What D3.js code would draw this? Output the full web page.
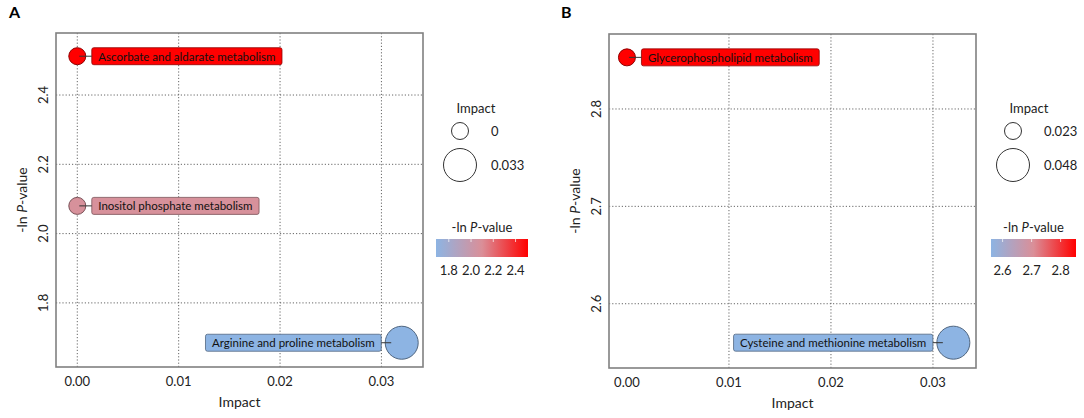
<!DOCTYPE html>
<html>
<head>
<meta charset="utf-8">
<script src="https://cdn.jsdelivr.net/npm/d3@7"></script>
<style>
  body { margin: 0; background: #fff; }
  text { font-family: Lato, "Open Sans", sans-serif; fill: #222; }
</style>
</head>
<body>
<div class="canvas"></div>
<script>
// panel A data
const pathwaysA = ['Ascorbate and aldarate metabolism', 'Inositol phosphate metabolism', 'Arginine and proline metabolism'];
const impactA = [0, 0, 0.032];
const pvalA = [2.512, 2.080, 1.685];
const xTicksA = [0, 0.01, 0.02, 0.03];
const xGridA = [0, 0.01, 0.02, 0.03];
const yTicksA = [1.8, 2.0, 2.2, 2.4];
const sizeLegendA = ['0', '0.033'];
const colorTicksA = [1.8, 2.0, 2.2, 2.4];

// panel B data
const pathwaysB = ['Glycerophospholipid metabolism', 'Cysteine and methionine metabolism'];
const impactB = [0, 0.032];
const pvalB = [2.853, 2.560];
const xTicksB = [0, 0.01, 0.02, 0.03];
const xGridB = [0.01, 0.02, 0.03];
const yTicksB = [2.6, 2.7, 2.8];
const sizeLegendB = ['0.023', '0.048'];
const colorTicksB = [2.6, 2.7, 2.8];

const svg = d3.select('.canvas')
    .append('svg')
        .attr('width', 1084)
        .attr('height', 418);

const defs = svg.append('defs');

function drawPanel(p) {
    const g = svg.append('g');

    const x = d3.scaleLinear().domain(p.xDomain).range([p.left, p.right]);
    const y = d3.scaleLinear().domain(p.yDomain).range([p.bottom, p.top]);
    const r = d3.scaleLinear().domain(d3.extent(p.impact)).range([8.5, 16.5]);
    const pExt = d3.extent(p.pval);
    const colour = d3.scaleLinear()
        .domain([pExt[0], (pExt[0] + pExt[1]) / 2, pExt[1]])
        .range(['#8db4e3', '#da8f98', '#ff0000']);

    // panel letter
    g.append('text')
        .attr('x', p.letterX)
        .attr('y', 18)
        .attr('font-family', 'Liberation Sans, Arial, sans-serif')
        .attr('font-weight', 'bold')
        .attr('font-size', 16)
        .style('fill', '#000')
        .text(p.letter);

    // grid
    g.selectAll('line.grid-x')
        .data(p.xGrid)
        .enter()
        .append('line')
        .attr('class', 'grid-x')
        .attr('x1', d => x(d)).attr('x2', d => x(d))
        .attr('y1', p.top).attr('y2', p.bottom)
        .attr('stroke', '#666')
        .attr('stroke-width', 1)
        .attr('stroke-dasharray', '1.2,2');

    g.selectAll('line.grid-y')
        .data(p.yTicks)
        .enter()
        .append('line')
        .attr('class', 'grid-y')
        .attr('x1', p.left).attr('x2', p.right)
        .attr('y1', d => y(d)).attr('y2', d => y(d))
        .attr('stroke', '#666')
        .attr('stroke-width', 1)
        .attr('stroke-dasharray', '1.2,2');

    // frame
    g.append('rect')
        .attr('x', p.left)
        .attr('y', p.top)
        .attr('width', p.right - p.left)
        .attr('height', p.bottom - p.top)
        .attr('fill', 'none')
        .attr('stroke', '#808080')
        .attr('stroke-width', 1.6);

    // x tick labels
    g.selectAll('text.x-tick')
        .data(p.xTicks)
        .enter()
        .append('text')
        .attr('class', 'x-tick')
        .attr('x', d => x(d))
        .attr('y', p.bottom + 19)
        .attr('font-size', 13)
        .attr('text-anchor', 'middle')
        .text(d => d3.format('.2f')(d));

    // y tick labels (rotated)
    g.selectAll('text.y-tick')
        .data(p.yTicks)
        .enter()
        .append('text')
        .attr('class', 'y-tick')
        .attr('transform', d => `translate(${p.left - 8}, ${y(d)}) rotate(-90)`)
        .attr('font-size', 13)
        .attr('text-anchor', 'middle')
        .text(d => d3.format('.1f')(d));

    // axis titles
    g.append('text')
        .attr('x', (p.left + p.right) / 2)
        .attr('y', p.bottom + 40)
        .attr('font-size', 14)
        .attr('text-anchor', 'middle')
        .text('Impact');

    const yTitle = g.append('text')
        .attr('transform', `translate(${p.left - 29}, ${(p.top + p.bottom) / 2}) rotate(-90)`)
        .attr('font-size', 14)
        .attr('text-anchor', 'middle');
    yTitle.append('tspan').text('-ln ');
    yTitle.append('tspan').attr('font-style', 'italic').text('P');
    yTitle.append('tspan').text('-value');

    // points
    const pts = p.names.map((n, i) => ({name: n, impact: p.impact[i], pval: p.pval[i]}));
    const midX = (p.left + p.right) / 2;

    const marks = g.selectAll('g.point')
        .data(pts)
        .enter()
        .append('g')
        .attr('class', 'point');

    marks.append('circle')
        .attr('cx', d => x(d.impact))
        .attr('cy', d => y(d.pval))
        .attr('r', d => r(d.impact))
        .attr('fill', d => colour(d.pval))
        .attr('stroke', d => d3.color(colour(d.pval)).darker(1.6))
        .attr('stroke-width', 1);

    marks.each(function(d) {
        const m = d3.select(this);
        const cx = x(d.impact), cy = y(d.pval), rad = r(d.impact);
        const left = cx > midX;
        const label = m.append('text')
            .attr('font-size', 11.5)
            .attr('dominant-baseline', 'central')
            .attr('y', cy)
            .style('fill', '#111')
            .text(d.name);
        const tw = label.node().getComputedTextLength();
        const bw = tw + 13;
        const bx = left ? cx - rad - 4 - bw : cx + rad + 6;
        m.insert('rect', 'text')
            .attr('x', bx)
            .attr('y', cy - 8.5)
            .attr('width', bw)
            .attr('height', 17)
            .attr('rx', 2)
            .attr('fill', colour(d.pval))
            .attr('stroke', d3.color(colour(d.pval)).darker(1.6))
            .attr('stroke-width', 0.8);
        label.attr('x', bx + 6.5);
        m.append('line')
            .attr('x1', left ? bx + bw : bx)
            .attr('x2', left ? cx - rad + 6 : cx + 2)
            .attr('y1', cy).attr('y2', cy)
            .attr('stroke', '#333')
            .attr('stroke-width', 1);
    });

    // size legend
    const lg = g.append('g');
    lg.append('text')
        .attr('x', p.legendX + 16)
        .attr('y', 113)
        .attr('font-size', 13)
        .attr('text-anchor', 'middle')
        .text('Impact');

    const sizes = r.range();
    lg.selectAll('circle.size-key')
        .data(p.sizeLegend)
        .enter()
        .append('circle')
        .attr('class', 'size-key')
        .attr('cx', p.legendX)
        .attr('cy', (d, i) => i === 0 ? 131 : 165)
        .attr('r', (d, i) => sizes[i])
        .attr('fill', 'none')
        .attr('stroke', '#333')
        .attr('stroke-width', 1);

    lg.selectAll('text.size-key')
        .data(p.sizeLegend)
        .enter()
        .append('text')
        .attr('class', 'size-key')
        .attr('x', p.legendX + 31)
        .attr('y', (d, i) => i === 0 ? 131 : 165)
        .attr('font-size', 13)
        .attr('dominant-baseline', 'central')
        .text(d => d);

    // colour bar
    const gradId = 'grad' + p.letter;
    const grad = defs.append('linearGradient').attr('id', gradId);
    d3.range(0, 1.0001, 0.1).forEach(t => {
        const v = pExt[0] + t * (pExt[1] - pExt[0]);
        grad.append('stop')
            .attr('offset', `${t * 100}%`)
            .attr('stop-color', colour(v));
    });

    const cb = d3.scaleLinear().domain(pExt).range([p.barX0, p.barX1]);

    const ct = lg.append('text')
        .attr('x', (p.barX0 + p.barX1) / 2)
        .attr('y', 232)
        .attr('font-size', 13)
        .attr('text-anchor', 'middle');
    ct.append('tspan').text('-ln ');
    ct.append('tspan').attr('font-style', 'italic').text('P');
    ct.append('tspan').text('-value');

    lg.append('rect')
        .attr('x', p.barX0)
        .attr('y', 239)
        .attr('width', p.barX1 - p.barX0)
        .attr('height', 18)
        .attr('fill', `url(#${gradId})`);

    lg.selectAll('line.cb-tick')
        .data(p.colorTicks)
        .enter()
        .append('line')
        .attr('class', 'cb-tick')
        .attr('x1', d => cb(d)).attr('x2', d => cb(d))
        .attr('y1', 239).attr('y2', 242)
        .attr('stroke', '#fff')
        .attr('stroke-opacity', 0.7)
        .attr('stroke-width', 1);

    lg.selectAll('text.cb-tick')
        .data(p.colorTicks)
        .enter()
        .append('text')
        .attr('class', 'cb-tick')
        .attr('x', d => cb(d))
        .attr('y', 270)
        .attr('font-size', 13)
        .attr('text-anchor', 'middle')
        .attr('dominant-baseline', 'central')
        .text(d => d3.format('.1f')(d));
}

drawPanel({
    letter: 'A', letterX: 9,
    names: pathwaysA, impact: impactA, pval: pvalA,
    xTicks: xTicksA, xGrid: xGridA, yTicks: yTicksA,
    sizeLegend: sizeLegendA, colorTicks: colorTicksA,
    left: 56, right: 423, top: 33, bottom: 367,
    xDomain: [-0.0021, 0.0341], yDomain: [1.615, 2.579],
    legendX: 460, barX0: 436, barX1: 528
});

drawPanel({
    letter: 'B', letterX: 561,
    names: pathwaysB, impact: impactB, pval: pvalB,
    xTicks: xTicksB, xGrid: xGridB, yTicks: yTicksB,
    sizeLegend: sizeLegendB, colorTicks: colorTicksB,
    left: 609, right: 976, top: 34, bottom: 368,
    xDomain: [-0.00176, 0.03422], yDomain: [2.534, 2.877],
    legendX: 1013, barX0: 991, barX1: 1076
});
</script>
</body>
</html>
